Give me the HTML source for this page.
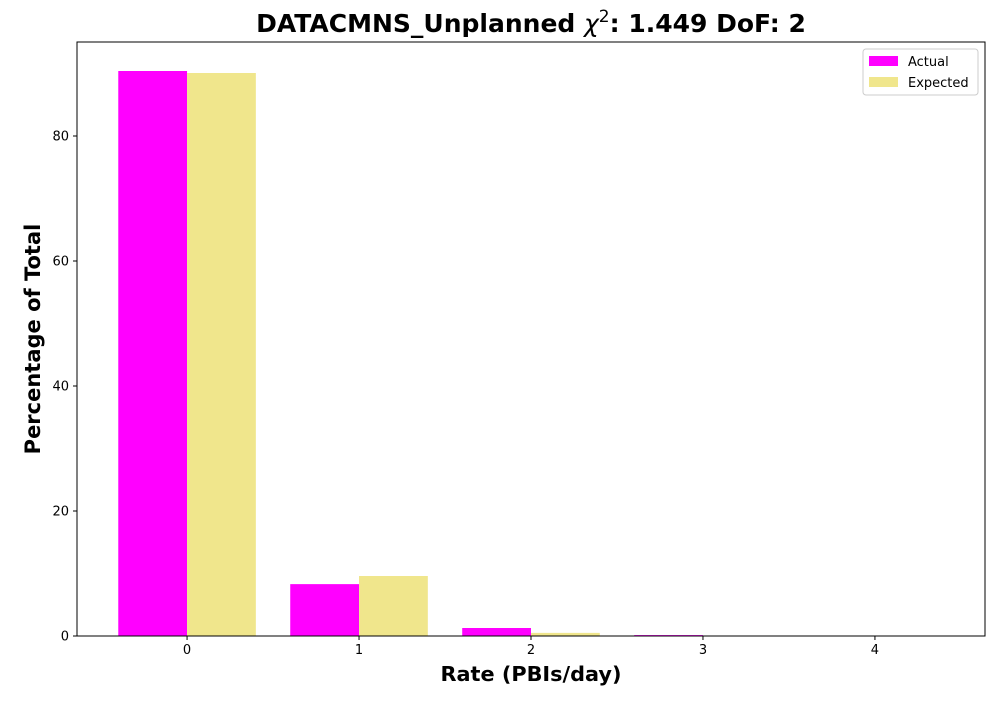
<!DOCTYPE html>
<html><head><meta charset="utf-8"><style>
body{margin:0;background:#fff;font-family:"Liberation Sans","DejaVu Sans",sans-serif}
</style></head><body>
<svg id="chart" width="1000" height="700" xmlns="http://www.w3.org/2000/svg" font-family="DejaVu Sans, Liberation Sans, sans-serif"></svg>
<script>
const categories=[0,1,2,3,4];
const actualValues=[90.4,8.3,1.28,0.15,0];
const expectedValues=[90.08,9.6,0.5,0.03,0];
const yTicks=[0,20,40,60,80];
const L=77,R=985,T=42,B=636,xMin=-0.64,xMax=4.64,yMax=95.04;
const sx=v=>L+(v-xMin)/(xMax-xMin)*(R-L);
const sy=v=>B-v/yMax*(B-T);
const svg=document.getElementById('chart');
const NS='http://www.w3.org/2000/svg';
function mk(tag,attrs,parent){const e=document.createElementNS(NS,tag);for(const k in attrs)e.setAttribute(k,attrs[k]);(parent||svg).appendChild(e);return e;}
categories.forEach((c,i)=>{
 const a=mk('rect',{x:sx(c-0.4),y:sy(actualValues[i]),width:sx(c)-sx(c-0.4),height:B-sy(actualValues[i]),fill:'#ff00ff'});
 
 
 const e=mk('rect',{x:sx(c),y:sy(expectedValues[i]),width:sx(c+0.4)-sx(c),height:B-sy(expectedValues[i]),fill:'#f0e68c'});
 
 
});
const frame=mk('rect',{x:L,y:T,width:R-L,height:B-T,fill:'none',stroke:'#000','stroke-width':1});


categories.forEach(c=>{
 mk('line',{x1:sx(c),x2:sx(c),y1:B,y2:B+4,stroke:'#000'});
 const t=mk('text',{x:sx(c),y:B+18,'text-anchor':'middle','font-size':13});
 t.textContent=c;
 
 
});
yTicks.forEach(v=>{
 mk('line',{x1:L-4,x2:L,y1:sy(v),y2:sy(v),stroke:'#000'});
 const t=mk('text',{x:L-8,y:sy(v)+4.5,'text-anchor':'end','font-size':13});
 t.textContent=v;
 
 
});
const title=mk('text',{x:531,y:32,'text-anchor':'middle','font-size':25,'font-weight':'bold'});
title.innerHTML='DATACMNS_Unplanned <tspan font-style="italic" font-weight="normal">χ</tspan><tspan dy="-10" font-size="17" font-weight="normal">2</tspan><tspan dy="10">: 1.449 DoF: 2</tspan>';


const xt=mk('text',{x:531,y:681,'text-anchor':'middle','font-size':20.8,'font-weight':'bold'});
xt.textContent='Rate (PBIs/day)';


const yt=mk('text',{x:40,y:339,'text-anchor':'middle','font-size':21,'font-weight':'bold',transform:'rotate(-90 40 339)'});
yt.textContent='Percentage of Total';


const lg=mk('g',{});


mk('rect',{x:863,y:49,width:115,height:46,rx:3,fill:'#fff',stroke:'#ccc'},lg);
mk('rect',{x:869,y:56,width:29,height:10,fill:'#ff00ff'},lg);
mk('rect',{x:869,y:77,width:29,height:10,fill:'#f0e68c'},lg);
const l1=mk('text',{x:908,y:66,'font-size':13},lg);l1.textContent='Actual';


const l2=mk('text',{x:908,y:87,'font-size':13},lg);l2.textContent='Expected';


</script>
</body></html>
